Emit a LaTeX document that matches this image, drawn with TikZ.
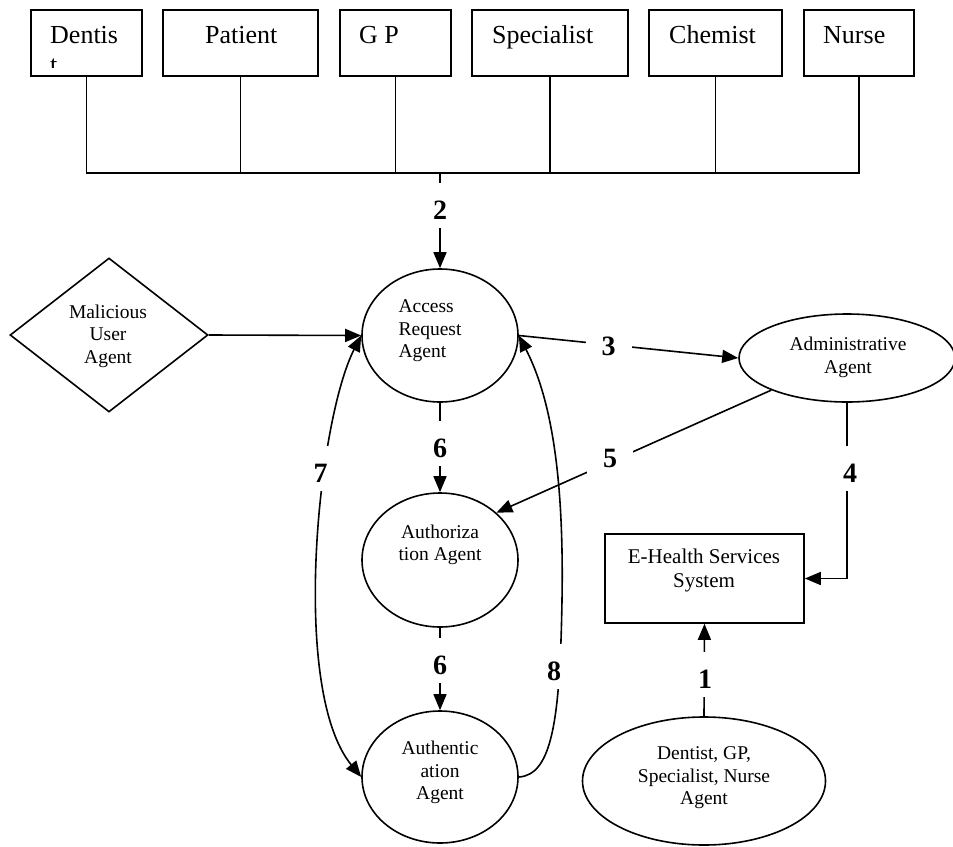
\documentclass[tikz,border=0pt]{standalone}
\usepackage{fontspec}
\setmainfont{Liberation Serif}
\usetikzlibrary{arrows.meta,shapes.geometric}
\begin{document}
\begin{tikzpicture}[x=1pt,y=-1pt,
 conn/.style={line width=1.6pt},
 arr/.style={conn,-{Triangle[length=16pt,width=13pt]}},
 darr/.style={conn,{Triangle[length=16pt,width=13pt]}-{Triangle[length=16pt,width=13pt]}},
 topbox/.style={draw,line width=1.6pt,minimum height=66pt,inner sep=0pt},
 toptext/.style={font=\fontsize{26}{30}\selectfont,anchor=base west,inner sep=0pt},
 agent/.style={draw,ellipse,line width=1.6pt,inner sep=0pt},
 agtext/.style={font=\fontsize{19.5}{22.5}\selectfont,align=center,inner sep=0pt},
 num/.style={font=\fontsize{28}{30}\selectfont\bfseries,fill=white,inner xsep=16pt,inner ysep=9pt,text height=27pt,text depth=0pt,anchor=base}]
\useasboundingbox (0,0) rectangle (953,846);

% top boxes
\node[topbox,minimum width=111pt] (dent) at (86.5,43) {};
\node[topbox,minimum width=155pt] (pat) at (240.5,43) {};
\node[topbox,minimum width=111pt] (gp) at (395.5,43) {};
\node[topbox,minimum width=156pt] (spec) at (550,43) {};
\node[topbox,minimum width=133pt] (chem) at (715.5,43) {};
\node[topbox,minimum width=110pt] (nurse) at (859,43) {};
\node[toptext] (dentt) at (50,43.5) {Dentis};
\begin{scope}
\clip (31,10) rectangle (142,67);
\node[toptext] (dentt2) at (50,73.5) {t};
\end{scope}
\node[toptext] (patt) at (205,43.5) {Patient};
\node[toptext] (gpt) at (359,43.5) {G P};
\node[toptext] (spect) at (492,43.5) {Specialist};
\node[toptext] (chemt) at (669,43.5) {Chemist};
\node[toptext] (nurset) at (823,43.5) {Nurse};

% agents
\node[agent,minimum width=156pt,minimum height=133pt] (acc) at (440,335.5) {};
\node[agtext,align=left] (acct) at (430,331) {Access\\Request\\Agent};
\node[agent,minimum width=156pt,minimum height=134pt] (authz) at (440,560) {};
\node[agtext] (authzt) at (440,545) {Authoriza\\tion Agent};
\node[agent,minimum width=156pt,minimum height=132pt] (authn) at (440,777) {};
\node[agtext] (authnt) at (440,772.5) {Authentic\\ation\\Agent};
\node[agent,minimum width=216pt,minimum height=88pt] (adm) at (847,358) {};
\node[agtext] (admt) at (848,357.5) {Administrative\\Agent};
\node[agent,minimum width=243pt,minimum height=128pt] (dgp) at (704,781) {};
\node[agtext] (dgpt) at (704,778) {Dentist, GP,\\Specialist, Nurse\\Agent};
\node[draw,diamond,line width=1.6pt,inner sep=0pt,minimum width=198pt,minimum height=154pt] (mal) at (109,335) {};
\node[agtext] (malt) at (108,336) {Malicious\\User\\Agent};
\node[draw,line width=1.6pt,inner sep=0pt,minimum width=199pt,minimum height=89pt] (ehs) at (704.5,578.5) {};
\node[agtext,font=\fontsize{21}{24}\selectfont] (ehst) at (704,570) {E-Health Services\\System};

% bus
\coordinate (busL) at (87,173);
\draw[conn] (dent.south) -- (dent.south |- busL) -- (nurse.south |- busL) -- (nurse.south);
\draw[conn] (pat.south) -- (pat.south |- busL);
\draw[conn] (gp.south) -- (gp.south |- busL);
\draw[conn] (spec.south) -- (spec.south |- busL);
\draw[conn] (chem.south) -- (chem.south |- busL);

% connectors
\draw[arr] (acc.north |- busL) -- (acc.north);
\draw[arr] (mal.east) -- (acc.west);
\draw[arr] (acc.east) -- (adm.west);
\draw[arr] (adm.203) -- (authz.40);
\draw[arr] (adm.south) |- (ehs.east);
\draw[arr] (dgp.north) -- (ehs.south);
\draw[arr] (acc.south) -- (authz.north);
\draw[arr] (authz.south) -- (authn.north);
\draw[darr] (acc.west) .. controls (318,420) and (290,690) .. (authn.west);
\draw[arr] (authn.east) .. controls (552,775) and (560,720) .. (562,600) .. controls (564,480) and (552,400) .. (acc.east);

% labels
\node[num] (l2) at (440,219) {2};
\node[num] (l3) at (608.5,355) {3};
\node[num] (l5) at (610,467) {5};
\node[num] (l4) at (850,482) {4};
\node[num] (l6a) at (440,457) {6};
\node[num] (l6b) at (440,674) {6};
\node[num] (l7) at (320.5,482) {7};
\node[num] (l8) at (554,680) {8};
\node[num] (l1) at (705,688) {1};
\end{tikzpicture}
\end{document}
